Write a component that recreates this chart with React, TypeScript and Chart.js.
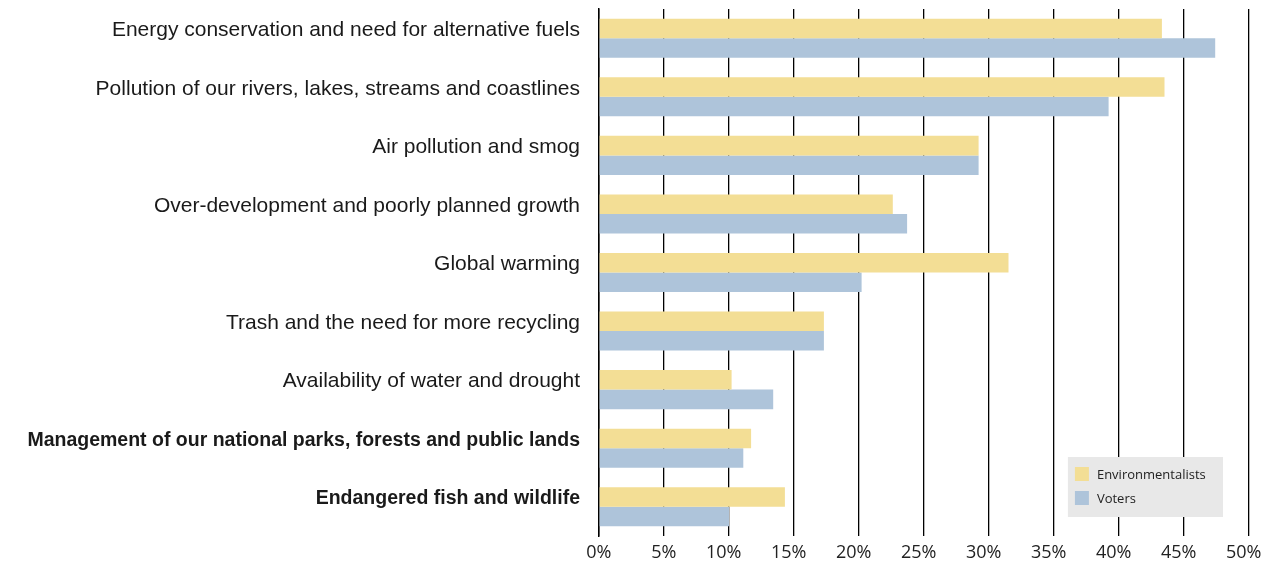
import React, { useEffect, useRef } from "react";
import { Chart, registerables } from "chart.js";

Chart.register(...registerables);

const categories = [
  "Energy conservation and need for alternative fuels",
  "Pollution of our rivers, lakes, streams and coastlines",
  "Air pollution and smog",
  "Over-development and poorly planned growth",
  "Global warming",
  "Trash and the need for more recycling",
  "Availability of water and drought",
  "Management of our national parks, forests and public lands",
  "Endangered fish and wildlife",
];
const boldCategories = [
  "Management of our national parks, forests and public lands",
  "Endangered fish and wildlife",
];
const environmentalists = [43.3, 43.5, 29.2, 22.6, 31.5, 17.3, 10.2, 11.7, 14.3];
const voters = [47.4, 39.2, 29.2, 23.7, 20.2, 17.3, 13.4, 11.1, 10.0];
const seriesNames = ["Environmentalists", "Voters"];
const seriesColors = ["#F3DE95", "#AEC4DA"];
const xTicks = [0, 5, 10, 15, 20, 25, 30, 35, 40, 45, 50];

const FONT = "'Open Sans', Lato, sans-serif";
const LABEL_FONT = "'Liberation Sans', Arial, sans-serif";

const legendPlugin = {
  id: "boxLegend",
  afterDraw(chart: any) {
    const ctx = chart.ctx;
    const x = chart.scales.x;
    const area = chart.chartArea;
    const bx = x.getPixelForValue(36.07);
    const bw = x.getPixelForValue(48.0) - bx;
    const by = area.bottom - 79;
    const bh = 60;
    ctx.save();
    ctx.fillStyle = "#E8E8E8";
    ctx.fillRect(bx, by, bw, bh);
    ctx.font = `13px ${FONT}`;
    ctx.textBaseline = "middle";
    ctx.textAlign = "left";
    seriesNames.forEach((name, i) => {
      const cy = by + 17 + i * 24;
      ctx.fillStyle = seriesColors[i];
      ctx.fillRect(bx + 7, cy - 7, 14, 14);
      ctx.fillStyle = "#222";
      ctx.fillText(name, bx + 29, cy + 1);
    });
    ctx.restore();
  },
};

export default function App() {
  const ref = useRef<HTMLCanvasElement>(null);
  useEffect(() => {
    document.body.style.margin = "0";
    const chart = new Chart(ref.current!, {
      type: "bar",
      data: {
        labels: categories,
        datasets: [
          {
            label: seriesNames[0],
            data: environmentalists,
            backgroundColor: seriesColors[0],
            categoryPercentage: 0.667,
            barPercentage: 1,
          },
          {
            label: seriesNames[1],
            data: voters,
            backgroundColor: seriesColors[1],
            categoryPercentage: 0.667,
            barPercentage: 1,
          },
        ],
      },
      options: {
        indexAxis: "y",
        animation: false,
        responsive: false,
        maintainAspectRatio: false,
        layout: { padding: { top: 9, right: 27, left: 0, bottom: 0 } },
        plugins: { legend: { display: false }, tooltip: { enabled: false } },
        scales: {
          x: {
            min: 0,
            max: 50,
            afterBuildTicks: (scale: any) => {
              scale.ticks = xTicks.map((v) => ({ value: v }));
            },
            afterFit: (scale: any) => {
              scale.height = 28;
              scale.paddingLeft = 0;
              scale.paddingRight = 0;
            },
            grid: {
              color: "#000",
              lineWidth: 1.3,
              drawTicks: false,
            },
            border: { display: false },
            ticks: {
              padding: 6,
              align: "end",
              labelOffset: 12.5,
              maxRotation: 0,
              color: "#222",
              font: { family: FONT, size: 18 },
              callback: (v: any) => `${v}%`,
            },
          },
          y: {
            afterFit: (scale: any) => {
              scale.width = 599;
              scale.paddingTop = 0;
              scale.paddingBottom = 0;
            },
            grid: { display: false, drawTicks: false },
            border: { display: true, color: "#000", width: 1.5 },
            ticks: {
              padding: 19,
              labelOffset: -8,
              color: "#1a1a1a",
              font: (c: any) => {
                const bold = boldCategories.includes(categories[c.index]);
                return {
                  family: LABEL_FONT,
                  size: bold ? 19.5 : 21,
                  weight: bold ? "bold" : "normal",
                };
              },
            },
          },
        },
      },
      plugins: [legendPlugin],
    });
    return () => chart.destroy();
  }, []);
  return (
    <div style={{ position: "absolute", left: 0, top: 0, width: 1276, height: 564 }}>
      <canvas ref={ref} width={1276} height={564} style={{ width: 1276, height: 564 }} />
    </div>
  );
}
